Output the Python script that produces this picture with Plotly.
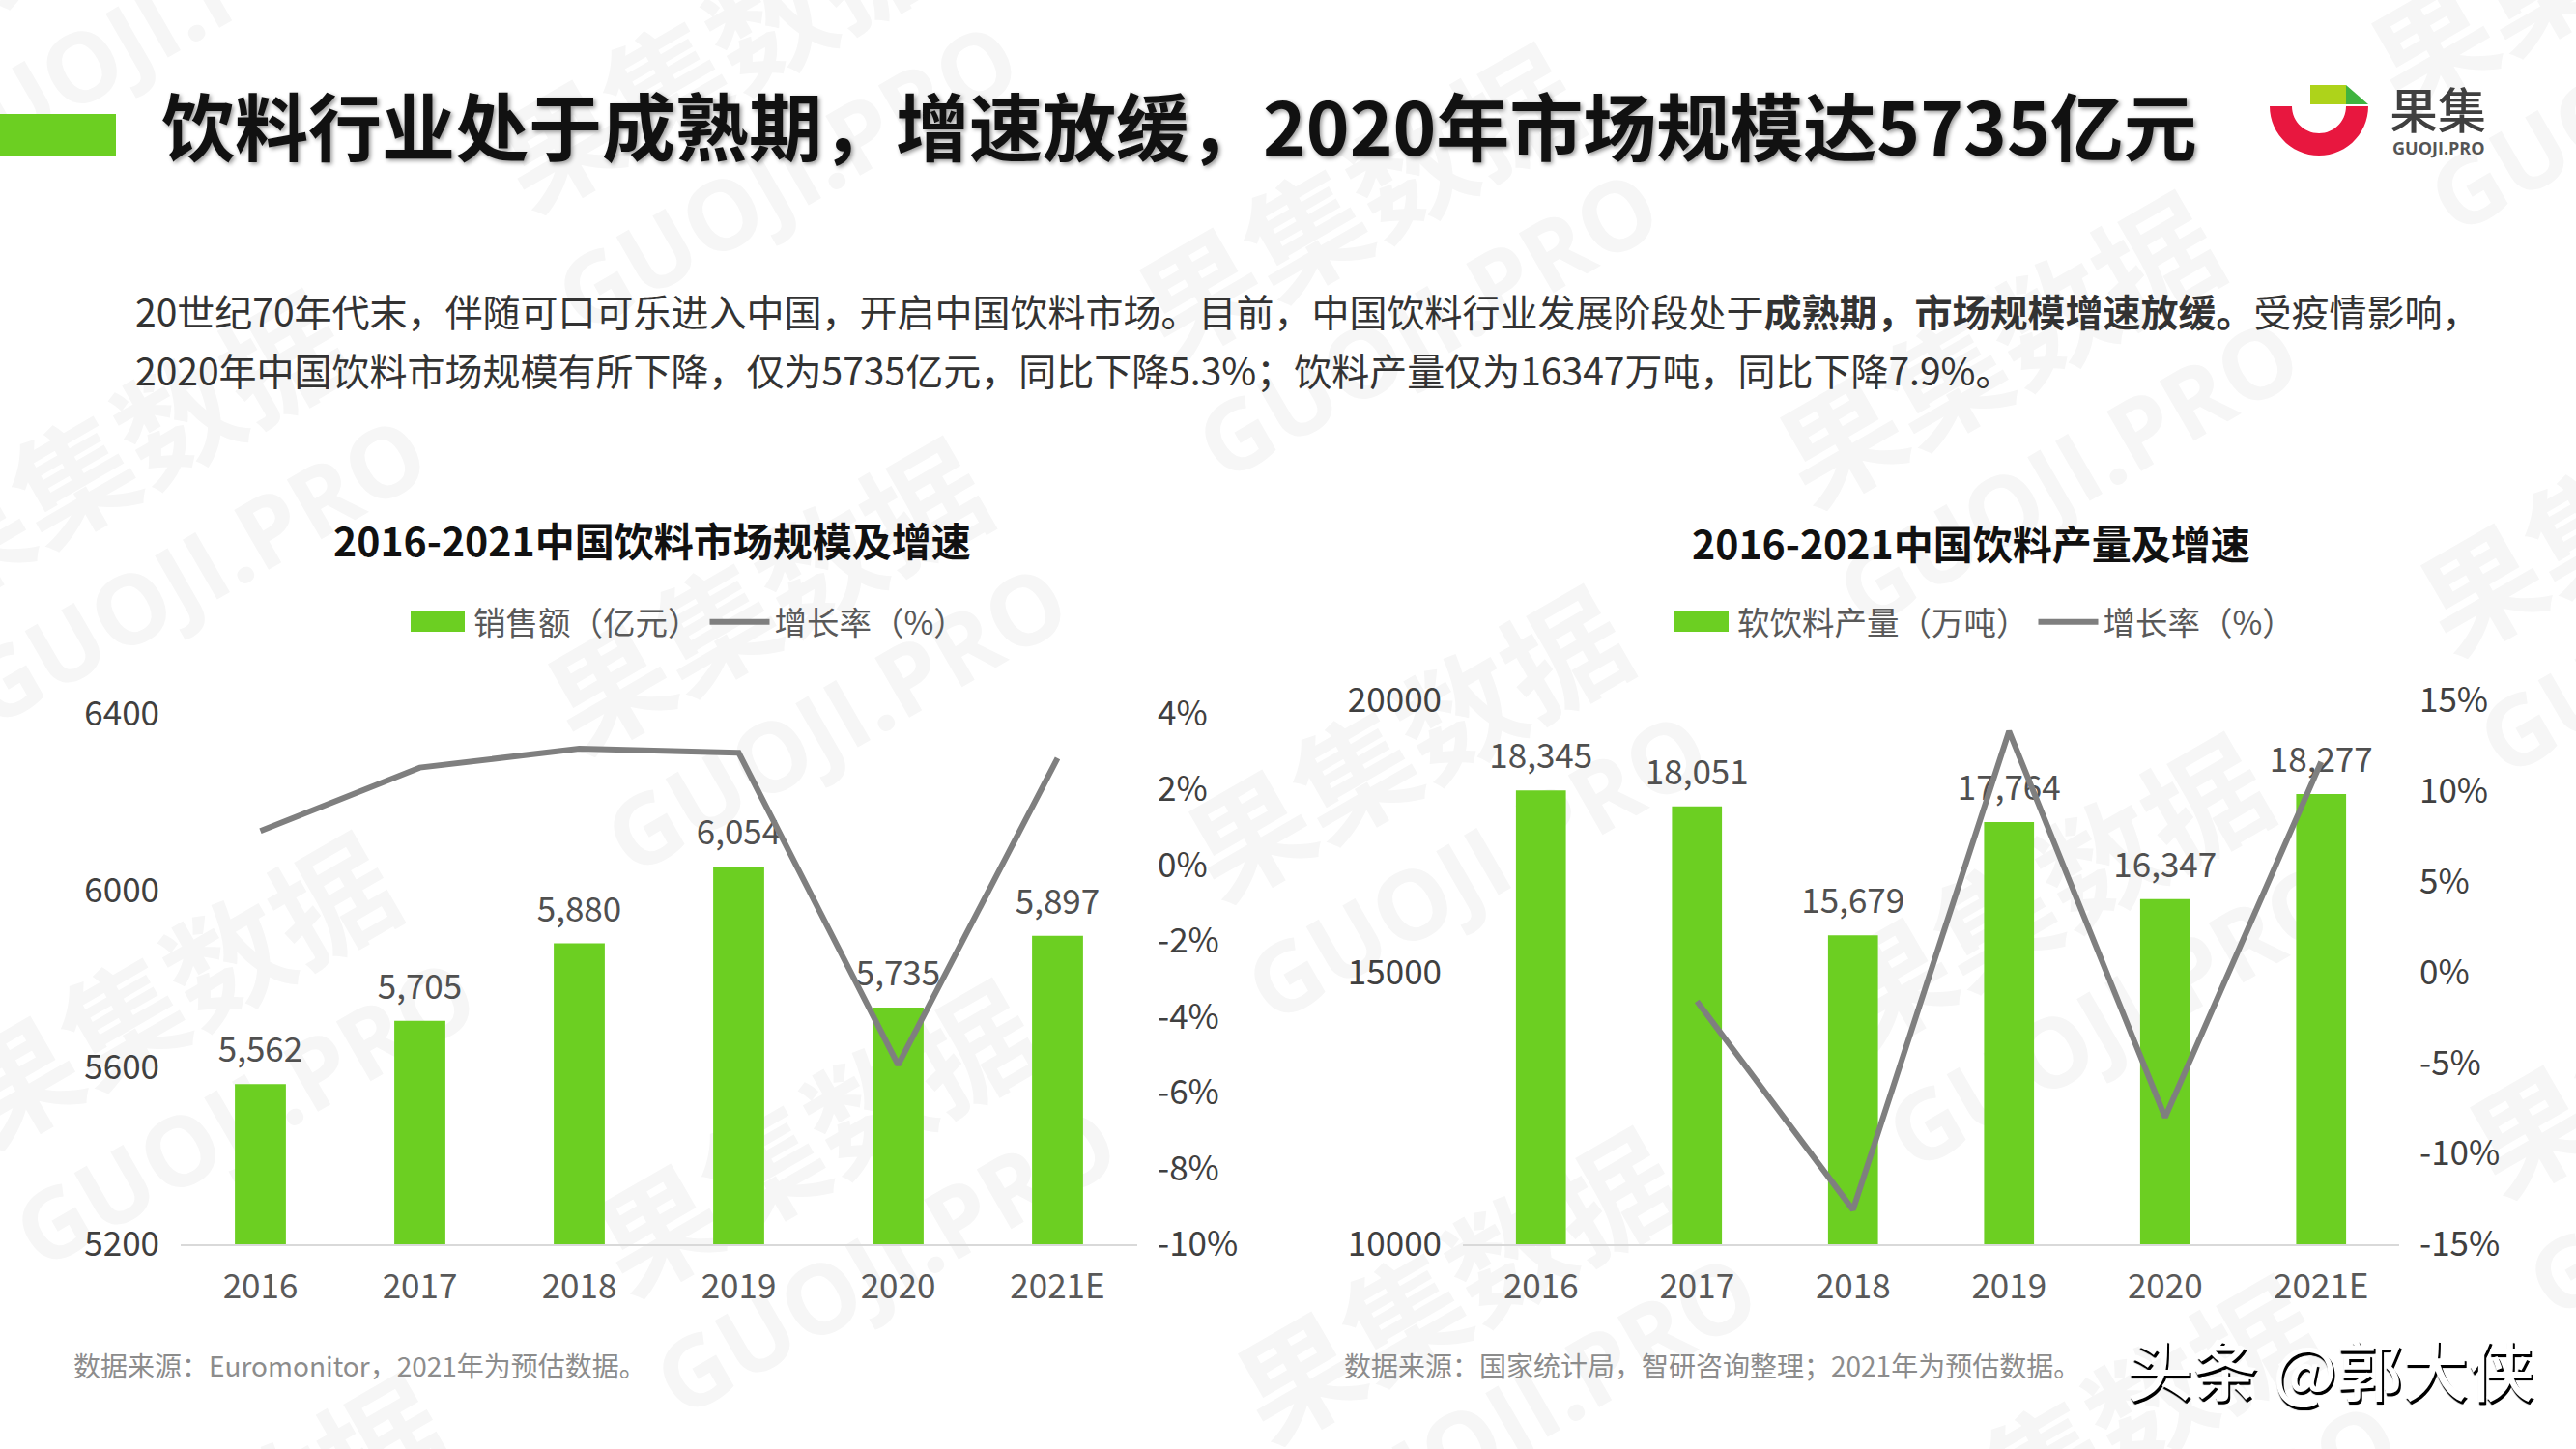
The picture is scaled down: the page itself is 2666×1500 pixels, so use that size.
import math
import plotly.graph_objects as go

CATS = ["2016", "2017", "2018", "2019", "2020", "2021E"]
SALES = [5562, 5705, 5880, 6054, 5735, 5897]
SALES_G = [0.9, 2.57, 3.07, 2.96, -5.27, 2.82]
OUTPUT = [18345, 18051, 15679, 17764, 16347, 18277]
OUTPUT_G = [None, -1.6, -13.1, 13.3, -8.0, 11.6]
L_TICKS = [5200, 5600, 6000, 6400]
L_PCT = [-10, -8, -6, -4, -2, 0, 2, 4]
R_TICKS = [10000, 15000, 20000]
R_PCT = [-15, -10, -5, 0, 5, 10, 15]

GREEN = "#6ccf22"
GRAY = "#7f7f7f"
CJK = "Noto Sans CJK SC"
W, H = 2666, 1500
WM = "#f6f6f6"

def px(x): return x / W
def py(y): return 1 - y / H

fig = go.Figure()

def add_chart(vals, growth, name, legend, xa, ya, ya2):
    fig.add_trace(go.Bar(x=CATS, y=vals, name=name, xaxis=xa, yaxis=ya, marker=dict(color=GREEN, line_width=0),
                         width=0.32, legend=legend))
    fig.add_trace(go.Scatter(x=CATS, y=vals, xaxis=xa, yaxis=ya, mode="markers+text", showlegend=False,
                             marker=dict(size=21, opacity=0), text=[f"{v:,}" for v in vals],
                             textposition="top center", cliponaxis=False, hoverinfo="skip",
                             textfont=dict(size=35, color="#505050", family=CJK)))
    fig.add_trace(go.Scatter(x=CATS, y=growth, name="增长率（%）", xaxis=xa, yaxis=ya2, mode="lines",
                             line=dict(color=GRAY, width=6), legend=legend, cliponaxis=False))

add_chart(SALES, SALES_G, "销售额（亿元）", "legend", "x", "y", "y2")
add_chart(OUTPUT, OUTPUT_G, "软饮料产量（万吨）", "legend2", "x2", "y3", "y4")

tick = dict(family=CJK, size=35)
def xaxis(dom, anchor):
    return dict(domain=dom, anchor=anchor, showgrid=False, showline=True, linecolor="#d9d9d9", linewidth=2,
                ticks="", tickfont=dict(tick, color="#595959"), type="category",
                categoryorder="array", categoryarray=CATS, ticklabelstandoff=12)
def yleft(dom, rng, tv, anchor):
    return dict(domain=dom, anchor=anchor, range=rng, tickvals=tv, tickformat="d", showgrid=False, showline=False,
                ticks="", tickfont=dict(tick, color="#404040"), ticklabelstandoff=21, zeroline=False)
def yright(dom, rng, tv, anchor, over):
    return dict(domain=dom, anchor=anchor, overlaying=over, side="right", range=rng, tickvals=tv,
                ticktext=[f"{v}%" for v in tv], showgrid=False, showline=False, ticks="",
                tickfont=dict(tick, color="#404040"), ticklabelstandoff=20, zeroline=False)

annots = []
shapes = []

def wm(cx, cy, t, size, family):
    shapes.append(dict(type="rect", xref="paper", yref="paper", layer="below",
                       x0=px(cx - 1), x1=px(cx + 1), y0=py(cy + 1), y1=py(cy - 1),
                       fillcolor="rgba(0,0,0,0)", line_width=0,
                       label=dict(text=f"<b>{t}</b>", textangle=-30, textposition="middle center",
                                  font=dict(family=family, size=size, color=WM))))

for i in range(-3, 5):
    for j in range(-3, 4):
        cx = 800 + i * 663 + j * 51
        cy = 629 + i * 153 + j * 561
        if -150 < cx < W + 150 and -100 < cy < H + 100:
            wm(cx, cy, "果集数据", 125, CJK)
            wm(cx + 68, cy + 119, "GUOJI.PRO", 100, "Open Sans")

def text(x, y, t, size, color, xanchor="left", weight=400, shadow=None, family=CJK):
    f = dict(family=family, size=size, color=color, weight=weight)
    if shadow: f["shadow"] = shadow
    annots.append(dict(x=px(x), y=py(y), xref="paper", yref="paper", text=t, showarrow=False,
                       xanchor=xanchor, yanchor="middle", font=f, align="left"))

text(165, 128, "饮料行业处于成熟期，增速放缓，2020年市场规模达5735亿元", 76, "#111111", weight=700, shadow="2px 2px 4px #999999")
text(138, 321, "20世纪70年代末，伴随可口可乐进入中国，开启中国饮料市场。目前，中国饮料行业发展阶段处于<b>成熟期，市场规模增速放缓。</b>受疫情影响，", 39, "#333333")
text(138, 382, "2020年中国饮料市场规模有所下降，仅为5735亿元，同比下降5.3%；饮料产量仅为16347万吨，同比下降7.9%。", 39, "#333333")
text(675, 558, "2016-2021中国饮料市场规模及增速", 41, "#111111", "center", 700)
text(2040, 561, "2016-2021中国饮料产量及增速", 41, "#111111", "center", 700)
text(74, 1413, "数据来源：Euromonitor，2021年为预估数据。", 28, "#8c8c8c")
text(1389, 1413, "数据来源：国家统计局，智研咨询整理；2021年为预估数据。", 28, "#8c8c8c")
text(2471, 111, "果集", 50, "#404040", weight=500)
text(2474, 153, "GUOJI.PRO", 18, "#555555", weight=700, family="Open Sans")
text(2199, 1415, "头条 @郭大侠", 68, "#ffffff", weight=500, shadow="2px 2.5px 0.5px #000000, 1px 3px 1px #000000")

def rect(x0, x1, y0, y1, color):
    shapes.append(dict(type="rect", xref="paper", yref="paper", x0=px(x0), x1=px(x1), y0=py(y1), y1=py(y0),
                       fillcolor=color, line_width=0))

def poly(pts, color):
    d = "M" + "L".join(f"{px(x):.5f},{py(y):.5f}" for x, y in pts) + "Z"
    shapes.append(dict(type="path", xref="paper", yref="paper", path=d, fillcolor=color, line_width=0))

rect(0, 120, 118, 161, GREEN)
# logo
LOGO_CX, LOGO_CY, LOGO_R, LOGO_IN = 2400, 110, 51, 28
steps = list(range(0, 181, 6))
outer = [(LOGO_CX + LOGO_R * math.cos(math.radians(a)), LOGO_CY + LOGO_R * math.sin(math.radians(a))) for a in steps]
inner = [(LOGO_CX + LOGO_IN * math.cos(math.radians(a)), LOGO_CY + LOGO_IN * math.sin(math.radians(a))) for a in reversed(steps)]
poly(outer + inner, "#e8173f")
rect(2391, 2428, 88, 108, "#aed31a")
poly([(2428, 88), (2451, 108), (2428, 108)], "#3fb33f")
# legend swatches, sized as in the reference
rect(425, 481, 633, 654, GREEN)
rect(1733, 1789, 633, 654, GREEN)

fig.update_layout(
    width=W, height=H, margin=dict(l=0, r=0, t=0, b=0, autoexpand=False), paper_bgcolor="white",
    plot_bgcolor="rgba(0,0,0,0)", bargap=0.68, showlegend=True,
    xaxis=xaxis([px(187), px(1177)], "y"),
    yaxis=yleft([py(1288), py(738.5)], [5200, 6400], L_TICKS, "x"),
    yaxis2=yright([py(1288), py(738.5)], [-10, 4], L_PCT, "x", "y"),
    xaxis2=xaxis([px(1514), px(2483)], "y3"),
    yaxis3=yleft([py(1288), py(725)], [10000, 20000], R_TICKS, "x2"),
    yaxis4=yright([py(1288), py(725)], [-15, 15], R_PCT, "x2", "y3"),
    legend=dict(orientation="h", x=px(418), y=py(644), xanchor="left", yanchor="middle",
                font=dict(family=CJK, size=33.5, color="#595959"), itemwidth=62, bgcolor="rgba(0,0,0,0)"),
    legend2=dict(orientation="h", x=px(1726), y=py(644), xanchor="left", yanchor="middle",
                 font=dict(family=CJK, size=33.5, color="#595959"), itemwidth=62, bgcolor="rgba(0,0,0,0)"),
    annotations=annots, shapes=shapes,
)
fig.write_html("out.html", config=dict(displayModeBar=False),
               post_script="document.body.style.margin='0';document.body.style.overflow='hidden';")
